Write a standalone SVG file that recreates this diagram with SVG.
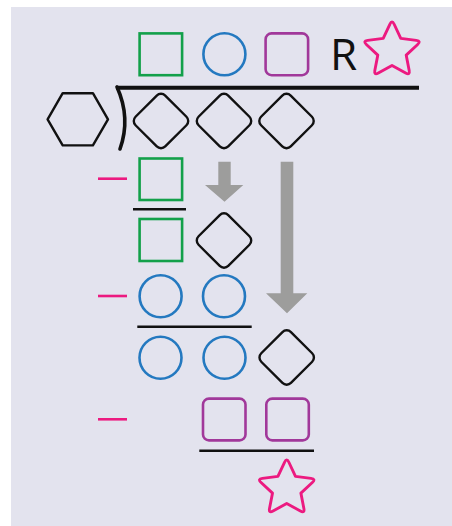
<svg xmlns="http://www.w3.org/2000/svg" xmlns:xlink="http://www.w3.org/1999/xlink" width="452" height="526" viewBox="0 0 452 526">
  <style>
    .sq { fill: none; stroke: #13a04a; stroke-width: 2.6; }
    .ci { fill: none; stroke: #2479c0; stroke-width: 2.6; }
    .pu { fill: none; stroke: #a1389a; stroke-width: 2.6; }
    .di { fill: none; stroke: #111; stroke-width: 2.4; }
    .hx { fill: none; stroke: #111; stroke-width: 2.4; stroke-linejoin: round; }
    .st { fill: none; stroke: #ec1a80; stroke-width: 2.8; stroke-linejoin: round; }
    .mi { stroke: #ec1a80; stroke-width: 2.6; }
    .rule { stroke: #111; stroke-width: 2.4; }
    .arrow { fill: #9d9d9c; }
    .lbl { font-family: "Open Sans", "Liberation Sans", sans-serif; font-size: 44px; fill: #111; }
  </style>
  <defs>
    <rect id="diamond" x="-21" y="-21" width="42" height="42" rx="6" transform="rotate(45)"/>
    <path id="star" d="M -2.11,-25.47 Q 0,-30 2.11,-25.47 L 8.52,-11.73 L 23.57,-9.88 Q 28.53,-9.27 24.88,-5.86 L 13.79,4.48 L 16.68,19.37 Q 17.63,24.27 13.26,21.85 L 0,14.5 L -13.26,21.85 Q -17.63,24.27 -16.68,19.37 L -13.79,4.48 L -24.88,-5.86 Q -28.53,-9.27 -23.57,-9.88 L -8.52,-11.73 Z"/>
  </defs>

  <rect x="0" y="0" width="452" height="526" fill="#ffffff"/>
  <rect x="11" y="7" width="441" height="519" fill="#e3e3ee"/>

  <!-- quotient row -->
  <g id="q-square"><rect class="sq" x="139.6" y="33.4" width="42.5" height="41.8"/></g>
  <g id="q-circle"><circle class="ci" cx="224.4" cy="54.2" r="21"/></g>
  <g id="q-purple"><rect class="pu" x="265.6" y="33.4" width="42.5" height="41.8" rx="6"/></g>
  <g id="q-R"><text class="lbl" x="330" y="70">R</text></g>
  <g id="q-star"><use xlink:href="#star" class="st" transform="translate(392,50.5) scale(1.03)"/></g>

  <!-- divisor and bracket -->
  <g id="divisor"><polygon class="hx" points="47.6,119.3 62.7,93.2 92.9,93.2 108,119.3 92.9,145.4 62.7,145.4"/></g>
  <g id="bracket">
    <line x1="116" y1="87.7" x2="419" y2="87.7" stroke="#111" stroke-width="4"/>
    <path d="M117,87 Q131,118 120,149" fill="none" stroke="#111" stroke-width="3.6" stroke-linecap="round"/>
  </g>

  <!-- dividend -->
  <g id="d1"><use xlink:href="#diamond" class="di" transform="translate(161,121)"/></g>
  <g id="d2"><use xlink:href="#diamond" class="di" transform="translate(224,121)"/></g>
  <g id="d3"><use xlink:href="#diamond" class="di" transform="translate(286.5,121)"/></g>

  <!-- step 1 -->
  <g id="minus1"><line class="mi" x1="98" y1="178.7" x2="127" y2="178.7"/></g>
  <g id="s1-square"><rect class="sq" x="139.6" y="158.5" width="42.5" height="41.5"/></g>
  <g id="rule1"><line class="rule" x1="133" y1="209.3" x2="186" y2="209.3"/></g>
  <g id="r1-square"><rect class="sq" x="139.6" y="219" width="42.5" height="42"/></g>
  <g id="r1-diamond"><use xlink:href="#diamond" class="di" transform="translate(224,240.5)"/></g>

  <!-- step 2 -->
  <g id="minus2"><line class="mi" x1="98" y1="296" x2="127" y2="296"/></g>
  <g id="s2-circle1"><circle class="ci" cx="160.6" cy="296.3" r="21"/></g>
  <g id="s2-circle2"><circle class="ci" cx="224" cy="296.3" r="21"/></g>
  <g id="rule2"><line class="rule" x1="137.3" y1="326.7" x2="251.7" y2="326.7"/></g>
  <g id="r2-circle1"><circle class="ci" cx="160.5" cy="357.8" r="21"/></g>
  <g id="r2-circle2"><circle class="ci" cx="224.5" cy="357.8" r="21"/></g>
  <g id="r2-diamond"><use xlink:href="#diamond" class="di" transform="translate(286.7,357.5)"/></g>

  <!-- step 3 -->
  <g id="minus3"><line class="mi" x1="98" y1="419.3" x2="127" y2="419.3"/></g>
  <g id="s3-purple1"><rect class="pu" x="203" y="398.6" width="42.5" height="41.8" rx="6"/></g>
  <g id="s3-purple2"><rect class="pu" x="266.3" y="398.6" width="42.5" height="41.8" rx="6"/></g>
  <g id="rule3"><line class="rule" x1="199.3" y1="450.7" x2="314" y2="450.7"/></g>
  <g id="remainder"><use xlink:href="#star" class="st" transform="translate(286.7,488.5) scale(1.03)"/></g>

  <!-- bring-down arrows -->
  <g id="connectors">
    <polygon class="arrow" points="218.3,161.7 230.7,161.7 230.7,185 243.3,185 224.5,201.7 205,185 218.3,185"/>
    <polygon class="arrow" points="280.7,161.7 293.3,161.7 293.3,293.3 307.3,293.3 287,313.3 266,293.3 280.7,293.3"/>
  </g>
</svg>
